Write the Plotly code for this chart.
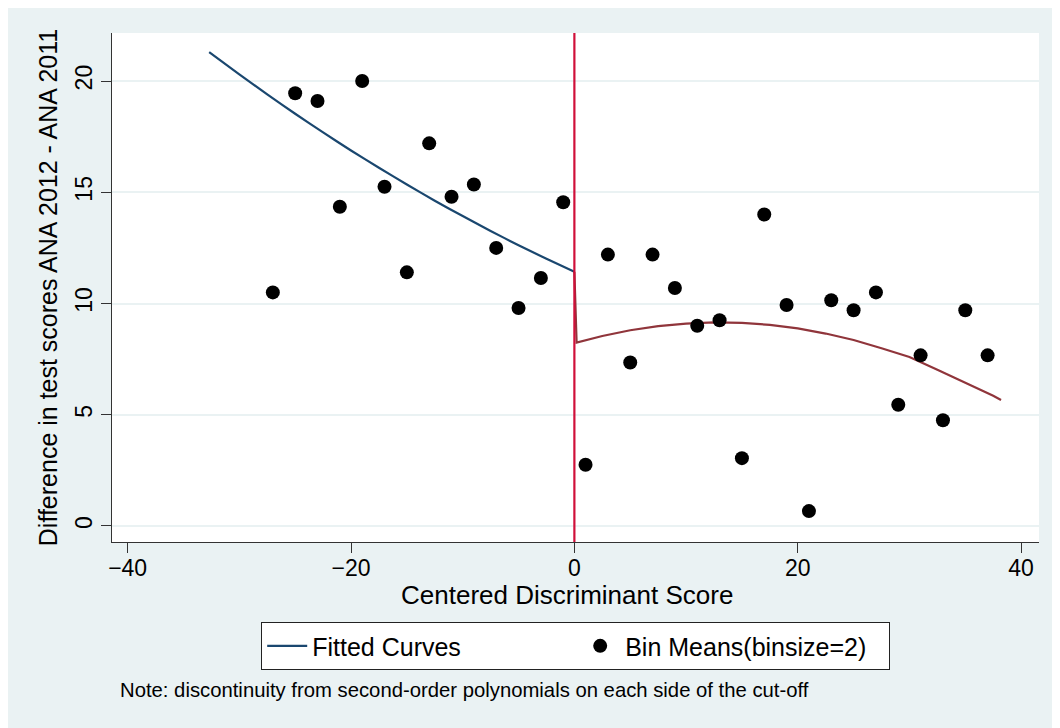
import plotly.graph_objects as go

# Bin means (binsize = 2)
bin_x = [-27, -25, -23, -21, -19, -17, -15, -13, -11, -9, -7, -5, -3, -1,
         1, 3, 5, 7, 9, 11, 13, 15, 17, 19, 21, 23, 25, 27, 29, 31, 33, 35, 37]
bin_y = [10.5, 19.45, 19.1, 14.35, 20.0, 15.25, 11.4, 17.2, 14.8, 15.35, 12.5, 9.8, 11.15, 14.55,
         2.75, 12.2, 7.35, 12.2, 10.7, 9.0, 9.25, 3.05, 14.0, 9.93, 0.67, 10.15, 9.7, 10.5,
         5.45, 7.67, 4.75, 9.7, 7.67]

# Fitted curve, left of cut-off
left_x = [-32.7, -30, -27.5, -25, -22.5, -20, -17.5, -15, -12.5, -10, -7.5, -5, -2.5, 0]
left_y = [21.30, 20.30, 19.40, 18.53, 17.69, 16.88, 16.10, 15.35, 14.62, 13.93, 13.26, 12.62, 12.01, 11.43]

# Fitted curve, right of cut-off (starts with the drop at the cut-off)
right_x = [0, 0.2, 2.5, 5, 7.5, 10, 12.5, 15, 17.5, 20, 22.5, 25, 27.5, 30, 32.5, 35, 37.5, 38.2]
right_y = [11.43, 8.24, 8.54, 8.80, 8.98, 9.10, 9.15, 9.13, 9.04, 8.88, 8.65, 8.36, 7.99, 7.60, 7.02, 6.45, 5.85, 5.66]

x_ticks = [-40, -20, 0, 20, 40]
y_ticks = [0, 5, 10, 15, 20]
cutoff = 0

FONT = "Liberation Sans, Arial, sans-serif"
BG = "#eaf2f3"

fig = go.Figure()
fig.add_trace(go.Scatter(x=left_x, y=left_y, mode="lines", name="Fitted Curves",
                         line=dict(color="#1a476f", width=2.2, shape="spline", smoothing=0.6)))
fig.add_trace(go.Scatter(x=right_x, y=right_y, mode="lines", showlegend=False,
                         line=dict(color="#90353b", width=2.2)))
fig.add_trace(go.Scatter(x=bin_x, y=bin_y, mode="markers", name="Bin Means(binsize=2)",
                         marker=dict(color="black", size=14, line=dict(width=0))))

fig.add_shape(type="line", x0=cutoff, x1=cutoff, y0=0, y1=1, xref="x", yref="paper",
              line=dict(color="#d0103a", width=2.2), layer="above")

fig.update_layout(
    width=1060, height=728,
    paper_bgcolor=BG, plot_bgcolor="white",
    margin=dict(l=104, r=29, t=25, b=194, autoexpand=False),
    font=dict(family=FONT, size=23, color="black"),
    showlegend=True,
    legend=dict(orientation="h", x=0.5, xanchor="center", y=-0.157, yanchor="top",
                bgcolor="white", bordercolor="#222", borderwidth=1.2,
                font=dict(size=25), entrywidth=258, itemwidth=40, tracegroupgap=0),
    annotations=[
        dict(text="Centered Discriminant Score", xref="paper", yref="paper",
             x=0.491, y=-0.104, xanchor="center", yanchor="middle", showarrow=False,
             font=dict(size=26, color="black")),
        dict(text="Note: discontinuity from second-order polynomials on each side of the cut-off",
             xref="paper", yref="paper", x=0.0065, y=-0.291, xanchor="left", yanchor="middle",
             showarrow=False, font=dict(size=20.3, color="black")),
    ],
)
fig.update_xaxes(range=[-41.4, 41.6], tickvals=x_ticks, ticks="outside", ticklen=10,
                 tickcolor="#333", showgrid=False, zeroline=False, showline=True,
                 linecolor="#333", linewidth=1, tickfont=dict(size=23), ticklabelstandoff=-5)
fig.update_yaxes(range=[-0.72, 22.16], tickvals=y_ticks, ticks="outside", ticklen=10,
                 tickcolor="#333", showgrid=True, gridcolor=BG, gridwidth=2, zeroline=False,
                 showline=True, linecolor="#333", linewidth=1, tickangle=-90,
                 title=dict(text="Difference in test scores ANA 2012 - ANA 2011", font=dict(size=25), standoff=6),
                 tickfont=dict(size=23))

fig.write_html("out.html")
